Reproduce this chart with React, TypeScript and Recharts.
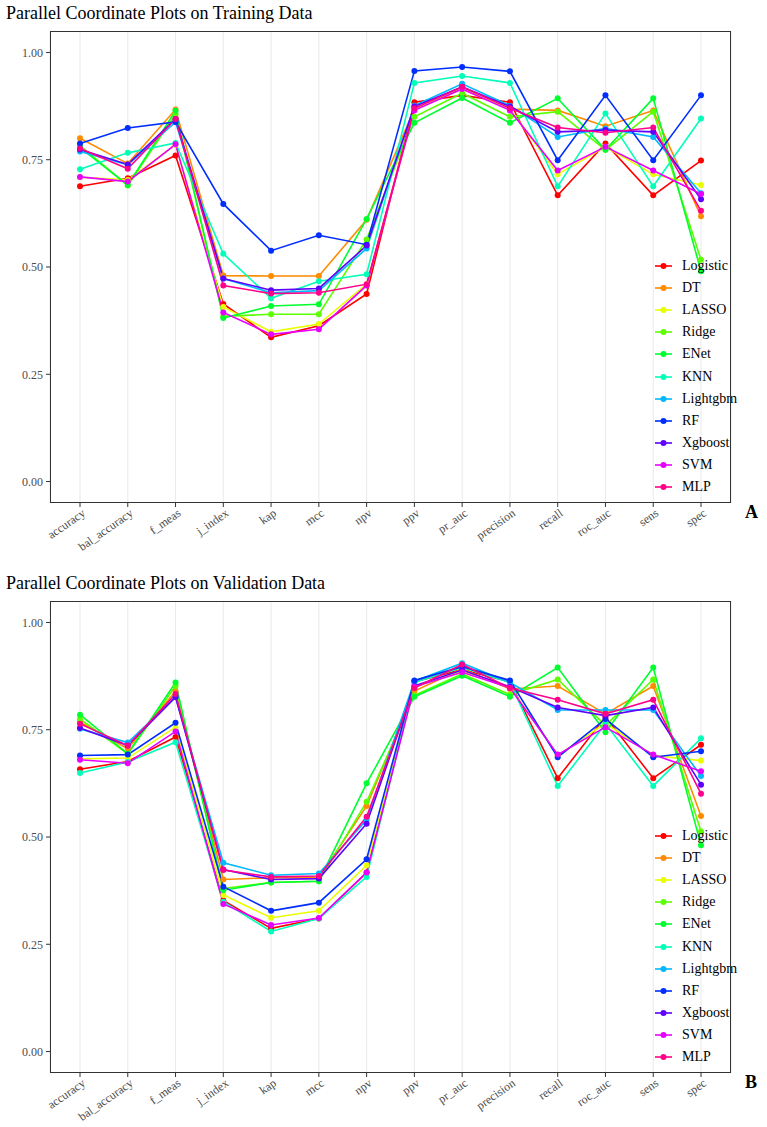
import React from "react";
import { LineChart, Line, XAxis, YAxis, CartesianGrid, Legend } from "recharts";

const metrics = [
  "accuracy", "bal_accuracy", "f_meas", "j_index", "kap", "mcc", "npv",
  "ppv", "pr_auc", "precision", "recall", "roc_auc", "sens", "spec",
];

const models = [
  "Logistic", "DT", "LASSO", "Ridge", "ENet", "KNN",
  "Lightgbm", "RF", "Xgboost", "SVM", "MLP",
];

// rainbow(11)
const modelColors = [
  "#FF0000", "#FF8B00", "#E8FF00", "#5DFF00", "#00FF2E", "#00FFB9",
  "#00B9FF", "#002EFF", "#5D00FF", "#E800FF", "#FF008B",
];

const yTicks = [0, 0.25, 0.5, 0.75, 1];

// training set metrics, one array per model (same order as `metrics`)
const trainLogistic = [0.688, 0.707, 0.760, 0.414, 0.336, 0.363, 0.437, 0.884, 0.900, 0.884, 0.667, 0.788, 0.667, 0.748];
const trainDT = [0.800, 0.741, 0.867, 0.480, 0.479, 0.479, 0.610, 0.868, 0.918, 0.868, 0.865, 0.828, 0.865, 0.618];
const trainLASSO = [0.709, 0.703, 0.785, 0.407, 0.349, 0.367, 0.460, 0.868, 0.915, 0.868, 0.716, 0.780, 0.716, 0.691];
const trainRidge = [0.783, 0.690, 0.856, 0.385, 0.390, 0.390, 0.564, 0.850, 0.905, 0.850, 0.862, 0.773, 0.862, 0.517];
const trainENet = [0.778, 0.691, 0.864, 0.381, 0.409, 0.413, 0.612, 0.836, 0.894, 0.836, 0.893, 0.773, 0.893, 0.490];
const trainKNN = [0.728, 0.766, 0.789, 0.531, 0.427, 0.467, 0.483, 0.929, 0.945, 0.929, 0.688, 0.858, 0.688, 0.846];
const trainLightgbm = [0.769, 0.738, 0.838, 0.473, 0.440, 0.445, 0.543, 0.876, 0.927, 0.876, 0.803, 0.823, 0.803, 0.672];
const trainRF = [0.788, 0.824, 0.838, 0.647, 0.538, 0.574, 0.552, 0.957, 0.966, 0.956, 0.749, 0.900, 0.749, 0.900];
const trainXgboost = [0.774, 0.739, 0.845, 0.473, 0.446, 0.450, 0.550, 0.874, 0.920, 0.874, 0.815, 0.819, 0.815, 0.658];
const trainSVM = [0.710, 0.699, 0.786, 0.394, 0.343, 0.355, 0.457, 0.865, 0.915, 0.865, 0.725, 0.780, 0.725, 0.670];
const trainMLP = [0.776, 0.729, 0.845, 0.457, 0.438, 0.440, 0.460, 0.870, 0.920, 0.870, 0.825, 0.813, 0.825, 0.631];

// validation set metrics
const validLogistic = [0.658, 0.676, 0.733, 0.352, 0.287, 0.310, 0.417, 0.862, 0.890, 0.862, 0.637, 0.780, 0.637, 0.715];
const validDT = [0.768, 0.706, 0.840, 0.401, 0.405, 0.405, 0.572, 0.840, 0.892, 0.845, 0.852, 0.787, 0.852, 0.549];
const validLASSO = [0.682, 0.684, 0.756, 0.365, 0.312, 0.328, 0.434, 0.850, 0.886, 0.850, 0.690, 0.765, 0.690, 0.678];
const validRidge = [0.775, 0.694, 0.852, 0.380, 0.394, 0.397, 0.582, 0.830, 0.880, 0.832, 0.867, 0.760, 0.867, 0.513];
const validENet = [0.785, 0.694, 0.860, 0.376, 0.394, 0.397, 0.625, 0.827, 0.876, 0.827, 0.895, 0.744, 0.895, 0.481];
const validKNN = [0.649, 0.675, 0.721, 0.349, 0.280, 0.310, 0.407, 0.860, 0.895, 0.860, 0.619, 0.764, 0.619, 0.730];
const validLightgbm = [0.752, 0.720, 0.826, 0.440, 0.411, 0.415, 0.540, 0.863, 0.905, 0.860, 0.796, 0.796, 0.796, 0.642];
const validRF = [0.690, 0.692, 0.766, 0.384, 0.328, 0.347, 0.448, 0.865, 0.897, 0.865, 0.686, 0.775, 0.686, 0.700];
const validXgboost = [0.754, 0.713, 0.826, 0.424, 0.401, 0.403, 0.531, 0.852, 0.889, 0.850, 0.802, 0.783, 0.802, 0.622];
const validSVM = [0.680, 0.672, 0.746, 0.344, 0.295, 0.311, 0.417, 0.850, 0.884, 0.848, 0.692, 0.756, 0.692, 0.653];
const validMLP = [0.764, 0.713, 0.833, 0.423, 0.407, 0.409, 0.547, 0.847, 0.902, 0.847, 0.820, 0.787, 0.820, 0.601];

const trainSeries = [
  trainLogistic, trainDT, trainLASSO, trainRidge, trainENet, trainKNN,
  trainLightgbm, trainRF, trainXgboost, trainSVM, trainMLP,
];
const validSeries = [
  validLogistic, validDT, validLASSO, validRidge, validENet, validKNN,
  validLightgbm, validRF, validXgboost, validSVM, validMLP,
];

function buildRows(series: number[][]) {
  return metrics.map((metric, i) => {
    const row: Record<string, string | number> = { metric };
    models.forEach((name, j) => {
      row[name] = series[j][i];
    });
    return row;
  });
}

const SERIF = "'Liberation Serif', 'Times New Roman', serif";
const W = 767;
const H = 570;
const PLOT = { left: 50, top: 31, width: 681, height: 472 };

function AngledTick(props: any) {
  const { x, y, payload } = props;
  return (
    <g transform={`translate(${x + 2},${y})`}>
      <text
        x={0}
        y={0}
        dy="0.6em"
        textAnchor="end"
        transform="rotate(-35)"
        fill="#4D4D4D"
        fontSize={12}
        fontFamily={SERIF}
      >
        {payload.value}
      </text>
    </g>
  );
}

function ModelLegend() {
  return (
    <div style={{ fontFamily: SERIF, fontSize: 14, color: "#000" }}>
      {models.map((name, i) => (
        <div key={name} style={{ height: 22.1, display: "flex", alignItems: "center" }}>
          <svg width={30} height={22} style={{ flex: "none" }}>
            <line x1={5} x2={22} y1={11} y2={11} stroke={modelColors[i]} strokeWidth={1.6} />
            <circle cx={13.5} cy={11} r={3} fill={modelColors[i]} />
          </svg>
          <span style={{ marginLeft: 2 }}>{name}</span>
        </div>
      ))}
    </div>
  );
}

function ParallelPanel({ title, tag, series }: { title: string; tag: string; series: number[][] }) {
  const rows = buildRows(series);
  return (
    <div style={{ position: "relative", width: W, height: H }}>
      <div
        style={{
          position: "absolute",
          left: 6,
          top: 3,
          fontFamily: SERIF,
          fontSize: 18,
          color: "#000",
          whiteSpace: "nowrap",
        }}
      >
        {title}
      </div>
      <div style={{ position: "absolute", left: 0, top: 0 }}>
        <LineChart
          width={W}
          height={H}
          data={rows}
          margin={{ top: PLOT.top, right: W - PLOT.left - PLOT.width, bottom: 0, left: 0 }}
        >
          <CartesianGrid horizontal={false} stroke="#EBEBEB" strokeWidth={1.1} />
          <XAxis
            dataKey="metric"
            interval={0}
            height={H - PLOT.top - PLOT.height}
            padding={{ left: 30, right: 30 }}
            axisLine={false}
            tickSize={4}
            tickLine={{ stroke: "#333333" }}
            tick={<AngledTick />}
          />
          <YAxis
            type="number"
            domain={[-0.05, 1.05]}
            ticks={yTicks}
            width={PLOT.left}
            axisLine={false}
            tickSize={4}
            tickMargin={3}
            tickLine={{ stroke: "#333333" }}
            tick={{ fill: "#4D4D4D", fontSize: 12, fontFamily: SERIF }}
            tickFormatter={(v: number) => v.toFixed(2)}
          />
          <Legend
            layout="vertical"
            align="center"
            verticalAlign="middle"
            wrapperStyle={{ left: 650, top: 255, width: 110 }}
            content={() => <ModelLegend />}
          />
          {models.map((name, i) => (
            <Line
              key={name}
              type="linear"
              dataKey={name}
              stroke={modelColors[i]}
              strokeWidth={1.6}
              dot={{ r: 3, fill: modelColors[i], stroke: modelColors[i], strokeWidth: 0 }}
              activeDot={false}
              isAnimationActive={false}
            />
          ))}
        </LineChart>
      </div>
      {/* panel border */}
      <div
        style={{
          position: "absolute",
          left: PLOT.left,
          top: PLOT.top,
          width: PLOT.width,
          height: PLOT.height,
          border: "1.3px solid #333333",
          boxSizing: "border-box",
          pointerEvents: "none",
        }}
      />
      <div
        style={{
          position: "absolute",
          left: 745,
          top: 502,
          fontFamily: SERIF,
          fontWeight: "bold",
          fontSize: 18,
          color: "#000",
        }}
      >
        {tag}
      </div>
    </div>
  );
}

export default function App() {
  return (
    <div
      style={{
        position: "absolute",
        left: 0,
        top: 0,
        width: W,
        height: 1127,
        overflow: "hidden",
        background: "#fff",
      }}
    >
      <ParallelPanel title="Parallel Coordinate Plots on Training Data" tag="A" series={trainSeries} />
      <ParallelPanel title="Parallel Coordinate Plots on Validation Data" tag="B" series={validSeries} />
    </div>
  );
}
